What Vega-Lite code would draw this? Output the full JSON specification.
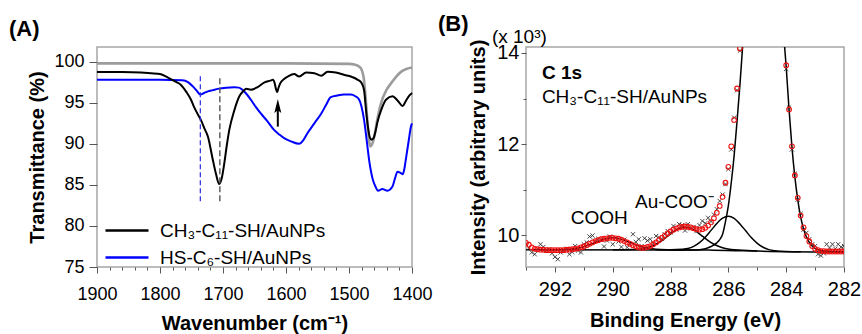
{
  "$schema": "https://vega.github.io/schema/vega-lite/v6.json",
  "background": "white",
  "padding": {"left": 8, "top": 11, "right": 0, "bottom": 0},
  "columns": 2,
  "align": "none",
  "spacing": 4,
  "config": {
    "font": "Liberation Sans",
    "view": {"stroke": "#a6a6a6", "strokeWidth": 1.5},
    "axis": {"domain": false, "grid": false, "labelColor": "#000", "titleColor": "#000", "tickColor": "#555", "titleFontSize": 20, "titleFontWeight": "bold", "labelFont": "Liberation Sans", "titleFont": "Liberation Sans", "labelFlush": false, "labelOverlap": false},
    "title": {"font": "Liberation Sans", "color": "#000"},
    "text": {"color": "#000", "font": "Liberation Sans"}
  },
  "datasets": {
    "ftir_ref": [
      {"wn": 1900, "t": 99.8}, {"wn": 1800, "t": 99.8}, {"wn": 1700, "t": 99.8}, {"wn": 1600, "t": 99.8}, {"wn": 1500, "t": 99.75},
      {"wn": 1490, "t": 99.65}, {"wn": 1482, "t": 99.3}, {"wn": 1477, "t": 98.2}, {"wn": 1474, "t": 96.0}, {"wn": 1471, "t": 93.0},
      {"wn": 1468, "t": 90.3}, {"wn": 1466, "t": 89.7}, {"wn": 1463, "t": 90.0}, {"wn": 1459, "t": 91.2}, {"wn": 1455, "t": 93.0},
      {"wn": 1449, "t": 95.0}, {"wn": 1441, "t": 96.5}, {"wn": 1433, "t": 97.4}, {"wn": 1425, "t": 98.2}, {"wn": 1417, "t": 98.8},
      {"wn": 1408, "t": 99.15}, {"wn": 1400, "t": 99.3}
    ],
    "ftir": [
      {"wn": 1900, "t": 97.8, "s": "HS-C₆-SH/AuNPs"}, {"wn": 1800, "t": 97.8, "s": "HS-C₆-SH/AuNPs"}, {"wn": 1765, "t": 97.75, "s": "HS-C₆-SH/AuNPs"},
      {"wn": 1755, "t": 97.5, "s": "HS-C₆-SH/AuNPs"}, {"wn": 1748, "t": 97.0, "s": "HS-C₆-SH/AuNPs"}, {"wn": 1742, "t": 96.5, "s": "HS-C₆-SH/AuNPs"},
      {"wn": 1736, "t": 96.0, "s": "HS-C₆-SH/AuNPs"}, {"wn": 1730, "t": 96.2, "s": "HS-C₆-SH/AuNPs"}, {"wn": 1724, "t": 96.4, "s": "HS-C₆-SH/AuNPs"},
      {"wn": 1716, "t": 96.55, "s": "HS-C₆-SH/AuNPs"}, {"wn": 1708, "t": 96.7, "s": "HS-C₆-SH/AuNPs"}, {"wn": 1695, "t": 96.85, "s": "HS-C₆-SH/AuNPs"},
      {"wn": 1682, "t": 96.9, "s": "HS-C₆-SH/AuNPs"}, {"wn": 1675, "t": 96.85, "s": "HS-C₆-SH/AuNPs"}, {"wn": 1671, "t": 96.7, "s": "HS-C₆-SH/AuNPs"},
      {"wn": 1664, "t": 96.2, "s": "HS-C₆-SH/AuNPs"}, {"wn": 1656, "t": 95.4, "s": "HS-C₆-SH/AuNPs"}, {"wn": 1648, "t": 94.5, "s": "HS-C₆-SH/AuNPs"},
      {"wn": 1640, "t": 93.7, "s": "HS-C₆-SH/AuNPs"}, {"wn": 1630, "t": 92.8, "s": "HS-C₆-SH/AuNPs"}, {"wn": 1619, "t": 91.7, "s": "HS-C₆-SH/AuNPs"},
      {"wn": 1610, "t": 91.1, "s": "HS-C₆-SH/AuNPs"}, {"wn": 1603, "t": 90.7, "s": "HS-C₆-SH/AuNPs"}, {"wn": 1592, "t": 90.3, "s": "HS-C₆-SH/AuNPs"},
      {"wn": 1579, "t": 90.0, "s": "HS-C₆-SH/AuNPs"}, {"wn": 1573, "t": 90.4, "s": "HS-C₆-SH/AuNPs"}, {"wn": 1566, "t": 91.3, "s": "HS-C₆-SH/AuNPs"},
      {"wn": 1555, "t": 92.5, "s": "HS-C₆-SH/AuNPs"}, {"wn": 1544, "t": 93.7, "s": "HS-C₆-SH/AuNPs"}, {"wn": 1536, "t": 94.8, "s": "HS-C₆-SH/AuNPs"},
      {"wn": 1529, "t": 95.7, "s": "HS-C₆-SH/AuNPs"}, {"wn": 1518, "t": 95.9, "s": "HS-C₆-SH/AuNPs"}, {"wn": 1508, "t": 96.0, "s": "HS-C₆-SH/AuNPs"},
      {"wn": 1497, "t": 96.0, "s": "HS-C₆-SH/AuNPs"}, {"wn": 1490, "t": 95.8, "s": "HS-C₆-SH/AuNPs"}, {"wn": 1484, "t": 95.4, "s": "HS-C₆-SH/AuNPs"},
      {"wn": 1480, "t": 94.5, "s": "HS-C₆-SH/AuNPs"}, {"wn": 1476, "t": 92.9, "s": "HS-C₆-SH/AuNPs"}, {"wn": 1472, "t": 90.5, "s": "HS-C₆-SH/AuNPs"},
      {"wn": 1468, "t": 88.0, "s": "HS-C₆-SH/AuNPs"}, {"wn": 1465, "t": 86.6, "s": "HS-C₆-SH/AuNPs"}, {"wn": 1462, "t": 85.6, "s": "HS-C₆-SH/AuNPs"},
      {"wn": 1458, "t": 84.8, "s": "HS-C₆-SH/AuNPs"}, {"wn": 1454, "t": 84.3, "s": "HS-C₆-SH/AuNPs"}, {"wn": 1447, "t": 84.5, "s": "HS-C₆-SH/AuNPs"},
      {"wn": 1439, "t": 84.3, "s": "HS-C₆-SH/AuNPs"}, {"wn": 1431, "t": 84.8, "s": "HS-C₆-SH/AuNPs"}, {"wn": 1427, "t": 85.8, "s": "HS-C₆-SH/AuNPs"},
      {"wn": 1423, "t": 86.6, "s": "HS-C₆-SH/AuNPs"}, {"wn": 1419, "t": 86.5, "s": "HS-C₆-SH/AuNPs"}, {"wn": 1415, "t": 86.3, "s": "HS-C₆-SH/AuNPs"},
      {"wn": 1412, "t": 87.0, "s": "HS-C₆-SH/AuNPs"}, {"wn": 1410, "t": 88.0, "s": "HS-C₆-SH/AuNPs"}, {"wn": 1405, "t": 90.5, "s": "HS-C₆-SH/AuNPs"},
      {"wn": 1402, "t": 92.0, "s": "HS-C₆-SH/AuNPs"}, {"wn": 1400, "t": 92.5, "s": "HS-C₆-SH/AuNPs"},
      {"wn": 1900, "t": 98.75, "s": "CH₃-C₁₁-SH/AuNPs"}, {"wn": 1860, "t": 98.75, "s": "CH₃-C₁₁-SH/AuNPs"}, {"wn": 1830, "t": 98.7, "s": "CH₃-C₁₁-SH/AuNPs"},
      {"wn": 1814, "t": 98.6, "s": "CH₃-C₁₁-SH/AuNPs"}, {"wn": 1800, "t": 98.5, "s": "CH₃-C₁₁-SH/AuNPs"}, {"wn": 1788, "t": 98.1, "s": "CH₃-C₁₁-SH/AuNPs"},
      {"wn": 1776, "t": 97.6, "s": "CH₃-C₁₁-SH/AuNPs"}, {"wn": 1767, "t": 97.2, "s": "CH₃-C₁₁-SH/AuNPs"}, {"wn": 1758, "t": 96.3, "s": "CH₃-C₁₁-SH/AuNPs"},
      {"wn": 1751, "t": 95.4, "s": "CH₃-C₁₁-SH/AuNPs"}, {"wn": 1746, "t": 94.5, "s": "CH₃-C₁₁-SH/AuNPs"}, {"wn": 1740, "t": 93.6, "s": "CH₃-C₁₁-SH/AuNPs"},
      {"wn": 1735, "t": 92.9, "s": "CH₃-C₁₁-SH/AuNPs"}, {"wn": 1729, "t": 91.8, "s": "CH₃-C₁₁-SH/AuNPs"}, {"wn": 1724, "t": 90.9, "s": "CH₃-C₁₁-SH/AuNPs"},
      {"wn": 1716, "t": 88.0, "s": "CH₃-C₁₁-SH/AuNPs"}, {"wn": 1711, "t": 86.3, "s": "CH₃-C₁₁-SH/AuNPs"}, {"wn": 1706, "t": 85.1, "s": "CH₃-C₁₁-SH/AuNPs"},
      {"wn": 1702, "t": 85.8, "s": "CH₃-C₁₁-SH/AuNPs"}, {"wn": 1698, "t": 87.6, "s": "CH₃-C₁₁-SH/AuNPs"}, {"wn": 1694, "t": 89.8, "s": "CH₃-C₁₁-SH/AuNPs"},
      {"wn": 1690, "t": 91.7, "s": "CH₃-C₁₁-SH/AuNPs"}, {"wn": 1682, "t": 94.1, "s": "CH₃-C₁₁-SH/AuNPs"}, {"wn": 1674, "t": 95.8, "s": "CH₃-C₁₁-SH/AuNPs"},
      {"wn": 1668, "t": 96.4, "s": "CH₃-C₁₁-SH/AuNPs"}, {"wn": 1663, "t": 96.7, "s": "CH₃-C₁₁-SH/AuNPs"}, {"wn": 1656, "t": 96.6, "s": "CH₃-C₁₁-SH/AuNPs"},
      {"wn": 1645, "t": 96.9, "s": "CH₃-C₁₁-SH/AuNPs"}, {"wn": 1634, "t": 97.5, "s": "CH₃-C₁₁-SH/AuNPs"}, {"wn": 1625, "t": 97.7, "s": "CH₃-C₁₁-SH/AuNPs"},
      {"wn": 1621, "t": 97.8, "s": "CH₃-C₁₁-SH/AuNPs"}, {"wn": 1618, "t": 97.4, "s": "CH₃-C₁₁-SH/AuNPs"}, {"wn": 1616, "t": 96.7, "s": "CH₃-C₁₁-SH/AuNPs"},
      {"wn": 1614, "t": 96.3, "s": "CH₃-C₁₁-SH/AuNPs"}, {"wn": 1612, "t": 96.8, "s": "CH₃-C₁₁-SH/AuNPs"}, {"wn": 1609, "t": 97.4, "s": "CH₃-C₁₁-SH/AuNPs"},
      {"wn": 1603, "t": 97.9, "s": "CH₃-C₁₁-SH/AuNPs"}, {"wn": 1597, "t": 98.2, "s": "CH₃-C₁₁-SH/AuNPs"}, {"wn": 1587, "t": 98.5, "s": "CH₃-C₁₁-SH/AuNPs"},
      {"wn": 1579, "t": 98.2, "s": "CH₃-C₁₁-SH/AuNPs"}, {"wn": 1568, "t": 98.7, "s": "CH₃-C₁₁-SH/AuNPs"}, {"wn": 1555, "t": 98.6, "s": "CH₃-C₁₁-SH/AuNPs"},
      {"wn": 1544, "t": 98.3, "s": "CH₃-C₁₁-SH/AuNPs"}, {"wn": 1534, "t": 98.8, "s": "CH₃-C₁₁-SH/AuNPs"}, {"wn": 1521, "t": 98.7, "s": "CH₃-C₁₁-SH/AuNPs"},
      {"wn": 1507, "t": 98.4, "s": "CH₃-C₁₁-SH/AuNPs"}, {"wn": 1497, "t": 98.2, "s": "CH₃-C₁₁-SH/AuNPs"}, {"wn": 1486, "t": 97.8, "s": "CH₃-C₁₁-SH/AuNPs"},
      {"wn": 1480, "t": 97.4, "s": "CH₃-C₁₁-SH/AuNPs"}, {"wn": 1476, "t": 96.5, "s": "CH₃-C₁₁-SH/AuNPs"}, {"wn": 1473, "t": 94.1, "s": "CH₃-C₁₁-SH/AuNPs"},
      {"wn": 1470, "t": 92.1, "s": "CH₃-C₁₁-SH/AuNPs"}, {"wn": 1467, "t": 90.8, "s": "CH₃-C₁₁-SH/AuNPs"}, {"wn": 1464, "t": 90.5, "s": "CH₃-C₁₁-SH/AuNPs"},
      {"wn": 1461, "t": 90.7, "s": "CH₃-C₁₁-SH/AuNPs"}, {"wn": 1458, "t": 91.5, "s": "CH₃-C₁₁-SH/AuNPs"}, {"wn": 1455, "t": 92.6, "s": "CH₃-C₁₁-SH/AuNPs"},
      {"wn": 1449, "t": 94.1, "s": "CH₃-C₁₁-SH/AuNPs"}, {"wn": 1441, "t": 95.4, "s": "CH₃-C₁₁-SH/AuNPs"}, {"wn": 1431, "t": 95.8, "s": "CH₃-C₁₁-SH/AuNPs"},
      {"wn": 1422, "t": 95.2, "s": "CH₃-C₁₁-SH/AuNPs"}, {"wn": 1415, "t": 94.6, "s": "CH₃-C₁₁-SH/AuNPs"}, {"wn": 1410, "t": 95.2, "s": "CH₃-C₁₁-SH/AuNPs"},
      {"wn": 1404, "t": 95.9, "s": "CH₃-C₁₁-SH/AuNPs"}, {"wn": 1400, "t": 96.2, "s": "CH₃-C₁₁-SH/AuNPs"}
    ],
    "env": [
      {"be": 293.0, "i": 9.83}, {"be": 292.9, "i": 9.79}, {"be": 292.8, "i": 9.73}, {"be": 292.7, "i": 9.70}, {"be": 292.6, "i": 9.69},
      {"be": 292.5, "i": 9.68}, {"be": 292.4, "i": 9.68}, {"be": 292.3, "i": 9.67}, {"be": 292.2, "i": 9.67}, {"be": 292.1, "i": 9.67},
      {"be": 292.0, "i": 9.67}, {"be": 291.9, "i": 9.67}, {"be": 291.8, "i": 9.67}, {"be": 291.7, "i": 9.67}, {"be": 291.6, "i": 9.68},
      {"be": 291.5, "i": 9.68}, {"be": 291.4, "i": 9.69}, {"be": 291.3, "i": 9.70}, {"be": 291.2, "i": 9.71}, {"be": 291.1, "i": 9.73},
      {"be": 291.0, "i": 9.75}, {"be": 290.9, "i": 9.78}, {"be": 290.8, "i": 9.81}, {"be": 290.7, "i": 9.84}, {"be": 290.6, "i": 9.87},
      {"be": 290.5, "i": 9.89}, {"be": 290.4, "i": 9.91}, {"be": 290.3, "i": 9.92}, {"be": 290.2, "i": 9.93}, {"be": 290.1, "i": 9.94},
      {"be": 290.0, "i": 9.94}, {"be": 289.9, "i": 9.93}, {"be": 289.8, "i": 9.92}, {"be": 289.7, "i": 9.90}, {"be": 289.6, "i": 9.87},
      {"be": 289.5, "i": 9.84}, {"be": 289.4, "i": 9.81}, {"be": 289.3, "i": 9.78}, {"be": 289.2, "i": 9.75}, {"be": 289.1, "i": 9.73},
      {"be": 289.0, "i": 9.72}, {"be": 288.9, "i": 9.72}, {"be": 288.8, "i": 9.74}, {"be": 288.7, "i": 9.76}, {"be": 288.6, "i": 9.80},
      {"be": 288.5, "i": 9.84}, {"be": 288.4, "i": 9.89}, {"be": 288.3, "i": 9.94}, {"be": 288.2, "i": 9.99}, {"be": 288.1, "i": 10.04},
      {"be": 288.0, "i": 10.08}, {"be": 287.9, "i": 10.12}, {"be": 287.8, "i": 10.15}, {"be": 287.7, "i": 10.17}, {"be": 287.6, "i": 10.18},
      {"be": 287.5, "i": 10.19}, {"be": 287.4, "i": 10.18}, {"be": 287.3, "i": 10.17}, {"be": 287.2, "i": 10.15}, {"be": 287.1, "i": 10.13},
      {"be": 287.0, "i": 10.12}, {"be": 286.9, "i": 10.13}, {"be": 286.8, "i": 10.16}, {"be": 286.7, "i": 10.21}, {"be": 286.6, "i": 10.28},
      {"be": 286.5, "i": 10.37}, {"be": 286.4, "i": 10.49}, {"be": 286.3, "i": 10.64}, {"be": 286.2, "i": 10.84}, {"be": 286.1, "i": 11.15},
      {"be": 286.0, "i": 11.50}, {"be": 285.9, "i": 11.95}, {"be": 285.8, "i": 12.53}, {"be": 285.7, "i": 13.22}, {"be": 285.6, "i": 14.1},
      {"be": 285.5, "i": 15.1}, {"be": 284.2, "i": 15.8}, {"be": 284.1, "i": 14.7},
      {"be": 284.0, "i": 13.73}, {"be": 283.9, "i": 12.76}, {"be": 283.8, "i": 11.95}, {"be": 283.7, "i": 11.31}, {"be": 283.6, "i": 10.82},
      {"be": 283.5, "i": 10.43}, {"be": 283.4, "i": 10.17}, {"be": 283.3, "i": 9.98}, {"be": 283.2, "i": 9.86}, {"be": 283.1, "i": 9.76},
      {"be": 283.0, "i": 9.70}, {"be": 282.9, "i": 9.67}, {"be": 282.8, "i": 9.65}, {"be": 282.7, "i": 9.65}, {"be": 282.6, "i": 9.64},
      {"be": 282.5, "i": 9.64}, {"be": 282.4, "i": 9.64}, {"be": 282.3, "i": 9.64}, {"be": 282.2, "i": 9.64}, {"be": 282.1, "i": 9.64},
      {"be": 282.0, "i": 9.64}
    ],
    "raw": [
      {"be": 293.0, "i": 9.80}, {"be": 292.9, "i": 9.72}, {"be": 292.8, "i": 9.62}, {"be": 292.7, "i": 9.58}, {"be": 292.6, "i": 9.70},
      {"be": 292.5, "i": 9.80}, {"be": 292.4, "i": 9.74}, {"be": 292.3, "i": 9.66}, {"be": 292.2, "i": 9.69}, {"be": 292.1, "i": 9.60},
      {"be": 292.0, "i": 9.52}, {"be": 291.9, "i": 9.47}, {"be": 291.8, "i": 9.62}, {"be": 291.7, "i": 9.65}, {"be": 291.6, "i": 9.70},
      {"be": 291.5, "i": 9.58}, {"be": 291.4, "i": 9.63}, {"be": 291.3, "i": 9.76}, {"be": 291.2, "i": 9.66}, {"be": 291.1, "i": 9.62},
      {"be": 291.0, "i": 9.80}, {"be": 290.9, "i": 9.84}, {"be": 290.8, "i": 9.97}, {"be": 290.7, "i": 9.99}, {"be": 290.6, "i": 9.87},
      {"be": 290.5, "i": 9.92}, {"be": 290.4, "i": 9.90}, {"be": 290.3, "i": 9.75}, {"be": 290.2, "i": 9.88}, {"be": 290.1, "i": 9.97},
      {"be": 290.0, "i": 9.80}, {"be": 289.9, "i": 9.93}, {"be": 289.8, "i": 9.86}, {"be": 289.7, "i": 9.74}, {"be": 289.6, "i": 9.90},
      {"be": 289.5, "i": 9.73}, {"be": 289.4, "i": 9.80}, {"be": 289.3, "i": 10.02}, {"be": 289.2, "i": 9.85}, {"be": 289.1, "i": 9.91},
      {"be": 289.0, "i": 9.76}, {"be": 288.9, "i": 9.93}, {"be": 288.8, "i": 9.88}, {"be": 288.7, "i": 9.91}, {"be": 288.6, "i": 9.82},
      {"be": 288.5, "i": 9.98}, {"be": 288.4, "i": 9.95}, {"be": 288.3, "i": 9.92}, {"be": 288.2, "i": 10.02}, {"be": 288.1, "i": 10.09},
      {"be": 288.0, "i": 10.06}, {"be": 287.9, "i": 10.20}, {"be": 287.8, "i": 10.12}, {"be": 287.7, "i": 10.24}, {"be": 287.6, "i": 10.22},
      {"be": 287.5, "i": 10.10}, {"be": 287.4, "i": 10.24}, {"be": 287.3, "i": 10.15}, {"be": 287.2, "i": 10.18}, {"be": 287.1, "i": 10.09},
      {"be": 287.0, "i": 10.22}, {"be": 286.9, "i": 10.31}, {"be": 286.8, "i": 10.26}, {"be": 286.7, "i": 10.38}, {"be": 286.6, "i": 10.30},
      {"be": 286.5, "i": 10.45}, {"be": 286.4, "i": 10.57}, {"be": 286.3, "i": 10.75}, {"be": 286.2, "i": 10.89}, {"be": 286.1, "i": 11.12},
      {"be": 286.0, "i": 11.45}, {"be": 285.9, "i": 11.88}, {"be": 285.8, "i": 12.58}, {"be": 285.7, "i": 13.18}, {"be": 285.6, "i": 14.05},
      {"be": 285.5, "i": 15.0}, {"be": 284.2, "i": 15.7}, {"be": 284.1, "i": 14.8},
      {"be": 284.0, "i": 13.65}, {"be": 283.9, "i": 12.80}, {"be": 283.8, "i": 11.88}, {"be": 283.7, "i": 11.35}, {"be": 283.6, "i": 10.78},
      {"be": 283.5, "i": 10.47}, {"be": 283.4, "i": 10.12}, {"be": 283.3, "i": 10.05}, {"be": 283.2, "i": 9.91}, {"be": 283.1, "i": 9.80},
      {"be": 283.0, "i": 9.76}, {"be": 282.9, "i": 9.58}, {"be": 282.8, "i": 9.55}, {"be": 282.7, "i": 9.60}, {"be": 282.6, "i": 9.80},
      {"be": 282.5, "i": 9.72}, {"be": 282.4, "i": 9.80}, {"be": 282.3, "i": 9.70}, {"be": 282.2, "i": 9.80}, {"be": 282.1, "i": 9.74},
      {"be": 282.0, "i": 9.76}
    ],
    "fit": [
      {"be": 293.0, "i": 9.68, "c": "bg"}, {"be": 288.0, "i": 9.675, "c": "bg"}, {"be": 286.5, "i": 9.67, "c": "bg"}, {"be": 285.0, "i": 9.65, "c": "bg"},
      {"be": 284.0, "i": 9.635, "c": "bg"}, {"be": 283.0, "i": 9.63, "c": "bg"}, {"be": 282.0, "i": 9.63, "c": "bg"},
      {"be": 292.5, "i": 9.68, "c": "cooh"}, {"be": 292.0, "i": 9.68, "c": "cooh"}, {"be": 291.5, "i": 9.69, "c": "cooh"}, {"be": 291.2, "i": 9.715, "c": "cooh"},
      {"be": 291.0, "i": 9.745, "c": "cooh"}, {"be": 290.8, "i": 9.787, "c": "cooh"}, {"be": 290.6, "i": 9.838, "c": "cooh"}, {"be": 290.4, "i": 9.888, "c": "cooh"},
      {"be": 290.2, "i": 9.926, "c": "cooh"}, {"be": 290.0, "i": 9.94, "c": "cooh"}, {"be": 289.8, "i": 9.926, "c": "cooh"}, {"be": 289.6, "i": 9.888, "c": "cooh"},
      {"be": 289.4, "i": 9.838, "c": "cooh"}, {"be": 289.2, "i": 9.787, "c": "cooh"}, {"be": 289.0, "i": 9.745, "c": "cooh"}, {"be": 288.8, "i": 9.715, "c": "cooh"},
      {"be": 288.5, "i": 9.69, "c": "cooh"}, {"be": 288.0, "i": 9.68, "c": "cooh"}, {"be": 287.5, "i": 9.675, "c": "cooh"},
      {"be": 290.0, "i": 9.68, "c": "aucoo"}, {"be": 289.5, "i": 9.68, "c": "aucoo"}, {"be": 289.3, "i": 9.685, "c": "aucoo"}, {"be": 289.1, "i": 9.69, "c": "aucoo"},
      {"be": 288.9, "i": 9.708, "c": "aucoo"}, {"be": 288.7, "i": 9.743, "c": "aucoo"}, {"be": 288.5, "i": 9.80, "c": "aucoo"}, {"be": 288.3, "i": 9.881, "c": "aucoo"},
      {"be": 288.1, "i": 9.978, "c": "aucoo"}, {"be": 287.9, "i": 10.075, "c": "aucoo"}, {"be": 287.7, "i": 10.148, "c": "aucoo"}, {"be": 287.5, "i": 10.175, "c": "aucoo"},
      {"be": 287.3, "i": 10.148, "c": "aucoo"}, {"be": 287.1, "i": 10.075, "c": "aucoo"}, {"be": 286.9, "i": 9.978, "c": "aucoo"}, {"be": 286.7, "i": 9.881, "c": "aucoo"},
      {"be": 286.5, "i": 9.80, "c": "aucoo"}, {"be": 286.3, "i": 9.743, "c": "aucoo"}, {"be": 286.1, "i": 9.705, "c": "aucoo"}, {"be": 285.9, "i": 9.685, "c": "aucoo"},
      {"be": 285.5, "i": 9.67, "c": "aucoo"}, {"be": 285.0, "i": 9.65, "c": "aucoo"},
      {"be": 288.5, "i": 9.68, "c": "p286"}, {"be": 288.0, "i": 9.68, "c": "p286"}, {"be": 287.6, "i": 9.69, "c": "p286"}, {"be": 287.4, "i": 9.706, "c": "p286"},
      {"be": 287.2, "i": 9.753, "c": "p286"}, {"be": 287.0, "i": 9.835, "c": "p286"}, {"be": 286.8, "i": 9.955, "c": "p286"}, {"be": 286.6, "i": 10.104, "c": "p286"},
      {"be": 286.4, "i": 10.256, "c": "p286"}, {"be": 286.2, "i": 10.372, "c": "p286"}, {"be": 286.0, "i": 10.415, "c": "p286"}, {"be": 285.8, "i": 10.367, "c": "p286"},
      {"be": 285.6, "i": 10.246, "c": "p286"}, {"be": 285.4, "i": 10.094, "c": "p286"}, {"be": 285.2, "i": 9.94, "c": "p286"}, {"be": 285.0, "i": 9.82, "c": "p286"},
      {"be": 284.8, "i": 9.733, "c": "p286"}, {"be": 284.6, "i": 9.681, "c": "p286"}, {"be": 284.4, "i": 9.657, "c": "p286"}, {"be": 284.0, "i": 9.64, "c": "p286"},
      {"be": 283.5, "i": 9.635, "c": "p286"},
      {"be": 288.0, "i": 9.675, "c": "main"}, {"be": 287.2, "i": 9.675, "c": "main"}, {"be": 287.0, "i": 9.68, "c": "main"}, {"be": 286.8, "i": 9.70, "c": "main"},
      {"be": 286.6, "i": 9.75, "c": "main"}, {"be": 286.4, "i": 9.83, "c": "main"}, {"be": 286.3, "i": 9.90, "c": "main"}, {"be": 286.2, "i": 10.02, "c": "main"},
      {"be": 286.1, "i": 10.30, "c": "main"}, {"be": 286.0, "i": 10.65, "c": "main"}, {"be": 285.9, "i": 11.15, "c": "main"}, {"be": 285.8, "i": 11.75, "c": "main"},
      {"be": 285.7, "i": 12.5, "c": "main"}, {"be": 285.6, "i": 13.3, "c": "main"}, {"be": 285.5, "i": 14.2, "c": "main"}, {"be": 285.4, "i": 15.3, "c": "main"},
      {"be": 285.3, "i": 16.5, "c": "main"}, {"be": 284.3, "i": 16.0, "c": "main"}, {"be": 284.2, "i": 15.2, "c": "main"}, {"be": 284.1, "i": 14.5, "c": "main"},
      {"be": 284.0, "i": 13.7, "c": "main"}, {"be": 283.9, "i": 12.75, "c": "main"}, {"be": 283.8, "i": 11.93, "c": "main"}, {"be": 283.7, "i": 11.28, "c": "main"},
      {"be": 283.6, "i": 10.78, "c": "main"}, {"be": 283.5, "i": 10.40, "c": "main"}, {"be": 283.4, "i": 10.14, "c": "main"}, {"be": 283.3, "i": 9.96, "c": "main"},
      {"be": 283.2, "i": 9.84, "c": "main"}, {"be": 283.1, "i": 9.76, "c": "main"}, {"be": 283.0, "i": 9.71, "c": "main"}, {"be": 282.8, "i": 9.665, "c": "main"},
      {"be": 282.5, "i": 9.645, "c": "main"}, {"be": 282.0, "i": 9.635, "c": "main"}
    ]
  },
  "concat": [
    {
      "width": 315,
      "height": 220,
      "title": {"text": "(A)", "anchor": "start", "frame": "group", "dx": -88, "offset": 6, "fontSize": 22, "fontWeight": "bold"},
      "encoding": {
        "x": {"field": "wn", "type": "quantitative", "scale": {"domain": [1400, 1900], "reverse": true, "nice": false, "zero": false},
          "axis": {"title": "Wavenumber (cm⁻¹)", "values": [1400,1420,1440,1460,1480,1500,1520,1540,1560,1580,1600,1620,1640,1660,1680,1700,1720,1740,1760,1780,1800,1820,1840,1860,1880,1900],
            "labelExpr": "datum.value % 100 === 0 ? datum.label : ''", "format": "d",
            "tickSize": {"condition": {"test": "datum.value % 100 === 0", "value": 6}, "value": 3},
            "labelFontSize": 18, "labelPadding": 12, "titlePadding": 10}},
        "y": {"field": "t", "type": "quantitative", "scale": {"domain": [75, 101.8], "nice": false, "zero": false},
          "axis": {"title": "Transmittance (%)", "values": [75, 80, 85, 90, 95, 100], "format": "d", "tickSize": 8, "labelPadding": 5, "labelFontSize": 18, "titlePadding": 6}}
      },
      "layer": [
        {"data": {"name": "ftir_ref"}, "mark": {"type": "line", "color": "#9c9c9c", "strokeWidth": 2.6, "interpolate": "monotone"}},
        {"data": {"name": "ftir"}, "mark": {"type": "line", "strokeWidth": 2, "interpolate": "monotone"},
          "encoding": {"color": {"field": "s", "type": "nominal",
            "scale": {"domain": ["CH₃-C₁₁-SH/AuNPs", "HS-C₆-SH/AuNPs"], "range": ["#000000", "#0000ff"]},
            "legend": {"orient": "none", "legendX": 2, "legendY": 174, "title": null, "symbolType": "M-1,0L13.33,0", "symbolSize": 36, "symbolStrokeWidth": 2.5,
              "labelFontSize": 19, "labelFont": "Liberation Sans", "labelColor": "#000", "labelOffset": 42, "labelLimit": 400, "rowPadding": 7, "padding": 0}}}},
        {"data": {"values": [{"wn": 1736, "t": 83, "t2": 98.3}]}, "mark": {"type": "rule", "color": "#2a2ae0", "strokeDash": [5, 3], "strokeWidth": 1.2},
          "encoding": {"y2": {"field": "t2"}}},
        {"data": {"values": [{"wn": 1705, "t": 83, "t2": 98.3}]}, "mark": {"type": "rule", "color": "#555555", "strokeDash": [6, 3], "strokeWidth": 1.4},
          "encoding": {"y2": {"field": "t2"}}},
        {"data": {"values": [{"wn": 1613, "t": 92.1, "t2": 94.3}]}, "mark": {"type": "rule", "color": "#000", "strokeWidth": 2},
          "encoding": {"y2": {"field": "t2"}}},
        {"data": {"values": [{"wn": 1613, "t": 94.6}]}, "mark": {"type": "point", "shape": "M0,-1L0.5,1L0,0.6L-0.5,1Z", "size": 196, "filled": true, "color": "#000", "opacity": 1}}
      ]
    },
    {
      "width": 318,
      "height": 220,
      "title": {"text": "(B)", "anchor": "start", "frame": "group", "dx": -88, "offset": -8, "fontSize": 22, "fontWeight": "bold"},
      "encoding": {
        "x": {"field": "be", "type": "quantitative", "scale": {"domain": [282, 293], "reverse": true, "nice": false, "zero": false},
          "axis": {"title": "Binding Energy (eV)", "values": [282,283,284,285,286,287,288,289,290,291,292,293],
            "labelExpr": "datum.value % 2 === 0 ? datum.label : ''", "format": "d",
            "tickSize": {"condition": {"test": "datum.value % 2 === 0", "value": 5}, "value": 3},
            "labelFontSize": 20, "labelPadding": 7, "titlePadding": 11}},
        "y": {"field": "i", "type": "quantitative", "scale": {"domain": [9.3, 14.131], "nice": false, "zero": false},
          "axis": {"title": "Intensity (arbitrary units)", "values": [10, 11, 12, 13, 14], "format": "d",
            "labelExpr": "datum.value % 2 === 0 ? datum.label : ''",
            "tickSize": {"condition": {"test": "datum.value % 2 === 0", "value": 5}, "value": 3},
            "labelFontSize": 20, "labelPadding": 2, "titlePadding": 8}}
      },
      "layer": [
        {"data": {"name": "fit"}, "mark": {"type": "line", "color": "#000", "strokeWidth": 1.5, "interpolate": "monotone", "clip": true},
          "encoding": {"detail": {"field": "c", "type": "nominal"}}},
        {"data": {"name": "raw"}, "mark": {"type": "point", "shape": "M-1,-1L1,1M-1,1L1,-1", "size": 18, "filled": false, "color": "#333", "strokeWidth": 0.9, "clip": true, "opacity": 1}},
        {"data": {"name": "env"}, "mark": {"type": "point", "shape": "circle", "size": 22, "filled": false, "color": "#f01010", "strokeWidth": 1.1, "clip": true, "opacity": 1}},
        {"data": {"values": [{"be": 292.45, "i": 13.57, "label": "C 1s"}]}, "mark": {"type": "text", "align": "left", "baseline": "middle", "fontSize": 19, "fontWeight": "bold"},
          "encoding": {"text": {"field": "label"}}},
        {"data": {"values": [{"be": 292.45, "i": 13.03, "label": "CH₃-C₁₁-SH/AuNPs"}, {"be": 291.45, "i": 10.37, "label": "COOH"}, {"be": 289.23, "i": 10.72, "label": "Au-COO⁻"}]},
          "mark": {"type": "text", "align": "left", "baseline": "middle", "fontSize": 19},
          "encoding": {"text": {"field": "label"}}},
        {"data": {"values": [{"be": 294.18, "i": 14.36, "label": "(x 10³)"}]}, "mark": {"type": "text", "align": "left", "baseline": "middle", "fontSize": 19},
          "encoding": {"text": {"field": "label"}}}
      ]
    }
  ]
}
